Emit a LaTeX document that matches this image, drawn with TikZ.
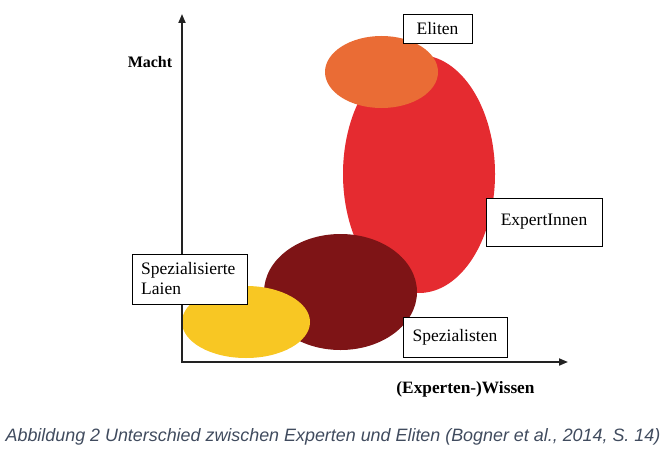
\documentclass[tikz,border=0pt]{standalone}
\usepackage{fontspec}
\setmainfont{Liberation Serif}
\newfontfamily\capfont{Liberation Sans}
\usetikzlibrary{arrows.meta}
\definecolor{cOrange}{HTML}{EA6C35}
\definecolor{cRed}{HTML}{E52B30}
\definecolor{cDark}{HTML}{7E1416}
\definecolor{cYellow}{HTML}{F8C723}
\definecolor{cCap}{HTML}{404B5E}
\definecolor{cAxis}{HTML}{222222}
\begin{document}
\begin{tikzpicture}[x=1pt,y=-1pt,
  lbl/.style={draw=black,line width=0.8pt,fill=white,inner sep=0pt,anchor=north west},
  lbltxt/.style={font=\fontsize{17.5}{20}\selectfont},
  axis/.style={draw=cAxis,line width=1.8pt,-{Triangle[length=9pt,width=7pt]}},
  axlbl/.style={font=\bfseries\fontsize{16}{19}\selectfont,text=black}]
\useasboundingbox (0,0) rectangle (671,452);
% ellipses
\fill[cRed] (419,174) ellipse [x radius=76, y radius=119];
\fill[cOrange] (381.5,72) ellipse [x radius=56.5, y radius=36];
\fill[cDark] (340.5,292) ellipse [x radius=76.5, y radius=58];
\fill[cYellow] (246,322) ellipse [x radius=64, y radius=36];
% axes
\coordinate (o) at (182,362);
\coordinate (ytip) at (182,14);
\coordinate (xtip) at (568,362);
\draw[axis] (182,363) -- (ytip);
\draw[axis] (181,362) -- (xtip);
\node[axlbl] (macht) at (150,62) {Macht};
\node[axlbl,font=\bfseries\fontsize{17.3}{19}\selectfont] (wissen) at (465.5,389) {(Experten-)Wissen};
% boxes
\node[lbl,minimum width=69pt,minimum height=29pt] (eliten) at (403,14) {};
\node[lbltxt] (elt) at (437.5,28.5) {Eliten};
\node[lbl,minimum width=116pt,minimum height=48pt] (expert) at (486,198) {};
\node[lbltxt] (expt) at (544,222) {ExpertInnen};
\node[lbl,minimum width=115pt,minimum height=50pt] (laien) at (132,254) {};
\node[lbltxt,anchor=west,align=left,inner sep=0pt] (laient) at (141,279) {Spezialisierte\\Laien};
\node[lbl,minimum width=104pt,minimum height=40pt] (spez) at (403,317) {};
\node[lbltxt] (spezt) at (455,337) {Spezialisten};
% caption
\node (cap) at (333,437) [font=\capfont\itshape\fontsize{17.9}{20}\selectfont,text=cCap] {Abbildung 2 Unterschied zwischen Experten und Eliten (Bogner et al., 2014, S. 14)};
\end{tikzpicture}
\end{document}
